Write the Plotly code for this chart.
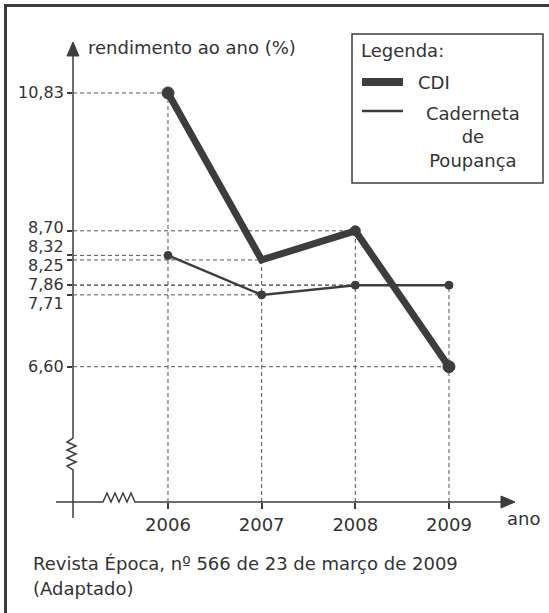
import plotly.graph_objects as go

# ---------------- data ----------------
years = [2006, 2007, 2008, 2009]
cdi = [10.83, 8.25, 8.70, 6.60]
poupanca = [8.32, 7.71, 7.86, 7.86]
series_names = ["CDI", "Caderneta<br>de<br>Poupança"]
y_title = "rendimento ao ano (%)"
x_title = "ano"
legend_title = "Legenda:"
source_lines = ["Revista Época, nº 566 de 23 de março de 2009", "(Adaptado)"]

# ---------------- layout geometry ----------------
W, H = 549, 613
L, R, T, B = 73, 515, 42, 502          # plot area in px
X_RANGE = [2004.986, 2009.705]
Y_RANGE = [4.509, 11.618]
FONT = "DejaVu Sans, Verdana, sans-serif"
TXT = "#333333"
INK = "#3d3d3d"
GUIDE = "#555555"
FS = 18
TICK_FS = 16
MIN_GAP = 19


def px(x):
    return (x - L) / (R - L)


def py(y):
    return (B - y) / (B - T)


def path(points, close=False):
    s = "M " + " L ".join(f"{px(a):.5f},{py(b):.5f}" for a, b in points)
    return s + (" Z" if close else "")


fig = go.Figure()

# dashed guide lines derived from the data
shapes = []
for series in (cdi, poupanca):
    for yr, v in zip(years, series):
        shapes.append(dict(type="line", xref="x", yref="y", x0=X_RANGE[0], x1=yr,
                           y0=v, y1=v, line=dict(color=GUIDE, width=1, dash="4px,3px"),
                           layer="below"))
for i, yr in enumerate(years):
    top = max(cdi[i], poupanca[i])
    shapes.append(dict(type="line", xref="x", yref="y", x0=yr, x1=yr,
                       y0=Y_RANGE[0], y1=top, line=dict(color=GUIDE, width=1, dash="4px,3px"),
                       layer="below"))

# series
fig.add_trace(go.Scatter(x=years, y=poupanca, mode="lines+markers", name="Caderneta de Poupança",
                         line=dict(color=INK, width=2.5),
                         marker=dict(color=INK, size=8, opacity=1, line=dict(width=1, color=INK)),
                         showlegend=False))
fig.add_trace(go.Scatter(x=years, y=cdi, mode="lines+markers", name="CDI",
                         line=dict(color=INK, width=7),
                         marker=dict(color=INK, size=[12, 6, 10, 12], opacity=1,
                                     line=dict(width=1, color=INK)),
                         showlegend=False))

# axes drawn as decoration (with breaks and arrows)
ax = dict(type="path", xref="paper", yref="paper", line=dict(color=INK, width=1.5))
# y axis
shapes.append(dict(ax, path=path([(73, 54), (73, 438), (67, 442), (76, 446), (67, 450), (76, 454),
                                  (67, 458), (76, 462), (67, 466), (73, 470), (73, 518)])))
shapes.append(dict(type="path", xref="paper", yref="paper", fillcolor=INK,
                   line=dict(color=INK, width=1),
                   path=path([(73, 42), (67, 56), (79, 56)], close=True)))
# x axis
shapes.append(dict(ax, path=path([(56, 502), (103, 502), (107, 493), (111, 502), (115, 493),
                                  (119, 502), (123, 493), (127, 502), (131, 493), (135, 502),
                                  (503, 502)])))
shapes.append(dict(type="path", xref="paper", yref="paper", fillcolor=INK,
                   line=dict(color=INK, width=1),
                   path=path([(515, 502), (501, 496), (501, 508)], close=True)))

# outer frame
shapes.append(dict(type="rect", xref="paper", yref="paper", x0=px(5.5), x1=px(575),
                   y0=py(640), y1=py(5.5), line=dict(color="#3c3c3c", width=3)))

# legend box
shapes.append(dict(type="rect", xref="paper", yref="paper", x0=px(352), x1=px(543),
                   y0=py(183), y1=py(34), line=dict(color=INK, width=1.5), fillcolor="white"))
shapes.append(dict(type="line", xref="paper", yref="paper", x0=px(362), x1=px(403),
                   y0=py(82), y1=py(82), line=dict(color=INK, width=8)))
shapes.append(dict(type="line", xref="paper", yref="paper", x0=px(362), x1=px(403),
                   y0=py(111), y1=py(111), line=dict(color=INK, width=2.5)))

annotations = []


def note(text, x, y, xanchor="left", yanchor="middle", align="left", yref="paper", yshift=0,
         size=FS):
    annotations.append(dict(text=text, x=x, y=y, xref="paper", yref=yref, xanchor=xanchor,
                            yanchor=yanchor, align=align, showarrow=False, yshift=yshift,
                            borderpad=0,
                            font=dict(family=FONT, size=size, color=TXT)))


# y tick labels (spread apart where values are crowded)
vals = sorted(set(cdi + poupanca), reverse=True)
scale = (B - T) / (Y_RANGE[1] - Y_RANGE[0])
pos = [T + (Y_RANGE[1] - v) * scale for v in vals]
adj = pos[:]
for _ in range(200):
    for i in range(len(adj) - 1):
        gap = adj[i + 1] - adj[i]
        if gap < MIN_GAP:
            d = (MIN_GAP - gap) / 2
            adj[i] -= d
            adj[i + 1] += d
for v, p0, p1 in zip(vals, pos, adj):
    note(f"{v:.2f}".replace(".", ","), px(65), v, xanchor="right", yref="y", yshift=p0 - p1,
         size=TICK_FS)

note(y_title, px(87), py(47))
note(x_title, px(506), py(518))
note(source_lines[0], px(32), py(563))
note(source_lines[1], px(32), py(588))
note(legend_title, px(360), py(50))
note(series_names[0], px(417), py(82))
note(series_names[1], px(473), py(136.5), xanchor="center", align="center")

fig.update_layout(
    width=W, height=H,
    margin=dict(l=L, r=W - R, t=T, b=H - B, pad=0),
    paper_bgcolor="white", plot_bgcolor="white",
    showlegend=False,
    shapes=shapes,
    annotations=annotations,
    font=dict(family=FONT, size=FS, color=TXT),
    xaxis=dict(range=X_RANGE, tickvals=years, ticktext=[str(y) for y in years],
               ticks="outside", ticklen=6, tickwidth=1.5, tickcolor=INK,
               showline=False, showgrid=False, zeroline=False, fixedrange=True,
               tickfont=dict(family=FONT, size=FS, color=TXT)),
    yaxis=dict(range=Y_RANGE, tickvals=vals, ticks="outside", ticklen=5, tickwidth=1.5,
               tickcolor=INK, showticklabels=False, showline=False, showgrid=False,
               zeroline=False, fixedrange=True),
)

fig.write_html(
    "out.html",
    config={"displayModeBar": False},
    post_script="document.body.style.margin='0px';document.body.style.overflow='hidden';"
                "document.documentElement.style.overflow='hidden';",
)
